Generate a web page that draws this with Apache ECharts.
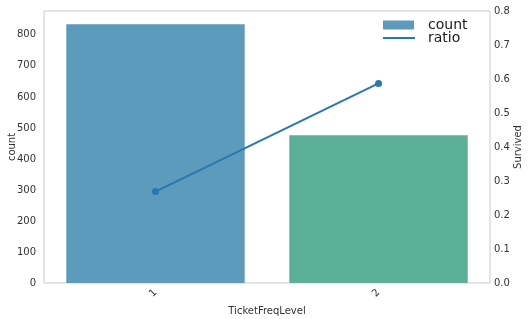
<!DOCTYPE html>
<html><head><meta charset="utf-8">
<script src="https://cdn.jsdelivr.net/npm/echarts@6/dist/echarts.min.js"></script>
<style>html,body{margin:0;padding:0;background:#fff}#c{width:530px;height:319px}</style>
</head><body><div id="c"></div>
<script>
const categories = ['1', '2'];
const countValues = [834, 476];
const ratioValues = [0.269, 0.587];
const countTicks = [0, 100, 200, 300, 400, 500, 600, 700, 800];
const ratioTicks = [0.0, 0.1, 0.2, 0.3, 0.4, 0.5, 0.6, 0.7, 0.8];
const barColors = ['#5d9bbd', '#5baf97'];
const font = 'DejaVu Sans';
const chart = echarts.init(document.getElementById('c'));
chart.setOption({
  animation: false,
  textStyle: {fontFamily: font},
  grid: {left: 44, right: 40, top: 11, bottom: 36, show: true, borderColor: '#cccccc', borderWidth: 1,
         containLabel: false, outerBoundsMode: 'none'},
  legend: [
    {data: [{name: 'count', icon: 'rect'}], left: 378, top: 13, itemWidth: 31, itemHeight: 9,
     textStyle: {fontFamily: font, fontSize: 14, color: '#1a1a1a', padding: [0, 0, 0, 9]}},
    {data: [{name: 'ratio', icon: 'rect'}], left: 378, top: 26, itemWidth: 32, itemHeight: 2,
     textStyle: {fontFamily: font, fontSize: 14, color: '#1a1a1a', padding: [0, 0, 0, 8]}}
  ],
  xAxis: {
    type: 'category', data: categories,
    name: 'TicketFreqLevel', nameLocation: 'middle', nameGap: 23, nameMoveOverlap: false,
    nameTextStyle: {fontFamily: font, fontSize: 10, color: '#333'},
    axisLine: {show: false}, axisTick: {show: false},
    axisLabel: {rotate: 45, fontFamily: font, fontSize: 10, color: '#333', margin: 8}
  },
  yAxis: [
    {type: 'value', min: 0, max: 877, interval: 100,
     name: 'count', nameLocation: 'middle', nameGap: 27, nameMoveOverlap: false,
     nameTextStyle: {fontFamily: font, fontSize: 10, color: '#333'},
     axisLine: {show: false}, axisTick: {show: false}, splitLine: {show: false},
     axisLabel: {fontFamily: font, fontSize: 10, color: '#333', margin: 8, showMaxLabel: false,
       formatter: v => countTicks.includes(v) ? String(v) : ''}},
    {type: 'value', min: 0, max: 0.8, interval: 0.1, position: 'right',
     name: 'Survived', nameLocation: 'middle', nameGap: 23, nameMoveOverlap: false,
     nameTextStyle: {fontFamily: font, fontSize: 10, color: '#333'},
     axisLine: {show: false}, axisTick: {show: false}, splitLine: {show: false},
     axisLabel: {fontFamily: font, fontSize: 10, color: '#333', margin: 4,
       formatter: v => { const t = ratioTicks.find(r => Math.abs(r - v) < 1e-9); return t === undefined ? '' : t.toFixed(1); }}}
  ],
  series: [
    {name: 'count', type: 'bar', yAxisIndex: 0, barWidth: '80%',
     itemStyle: {color: barColors[0]},
     data: countValues.map((v, i) => ({value: v, itemStyle: {color: barColors[i]}}))},
    {name: 'ratio', type: 'line', yAxisIndex: 1, data: ratioValues,
     symbol: 'circle', symbolSize: 7,
     lineStyle: {color: '#2777b5', width: 2}, itemStyle: {color: '#2777b5'}}
  ]
});
</script></body></html>
